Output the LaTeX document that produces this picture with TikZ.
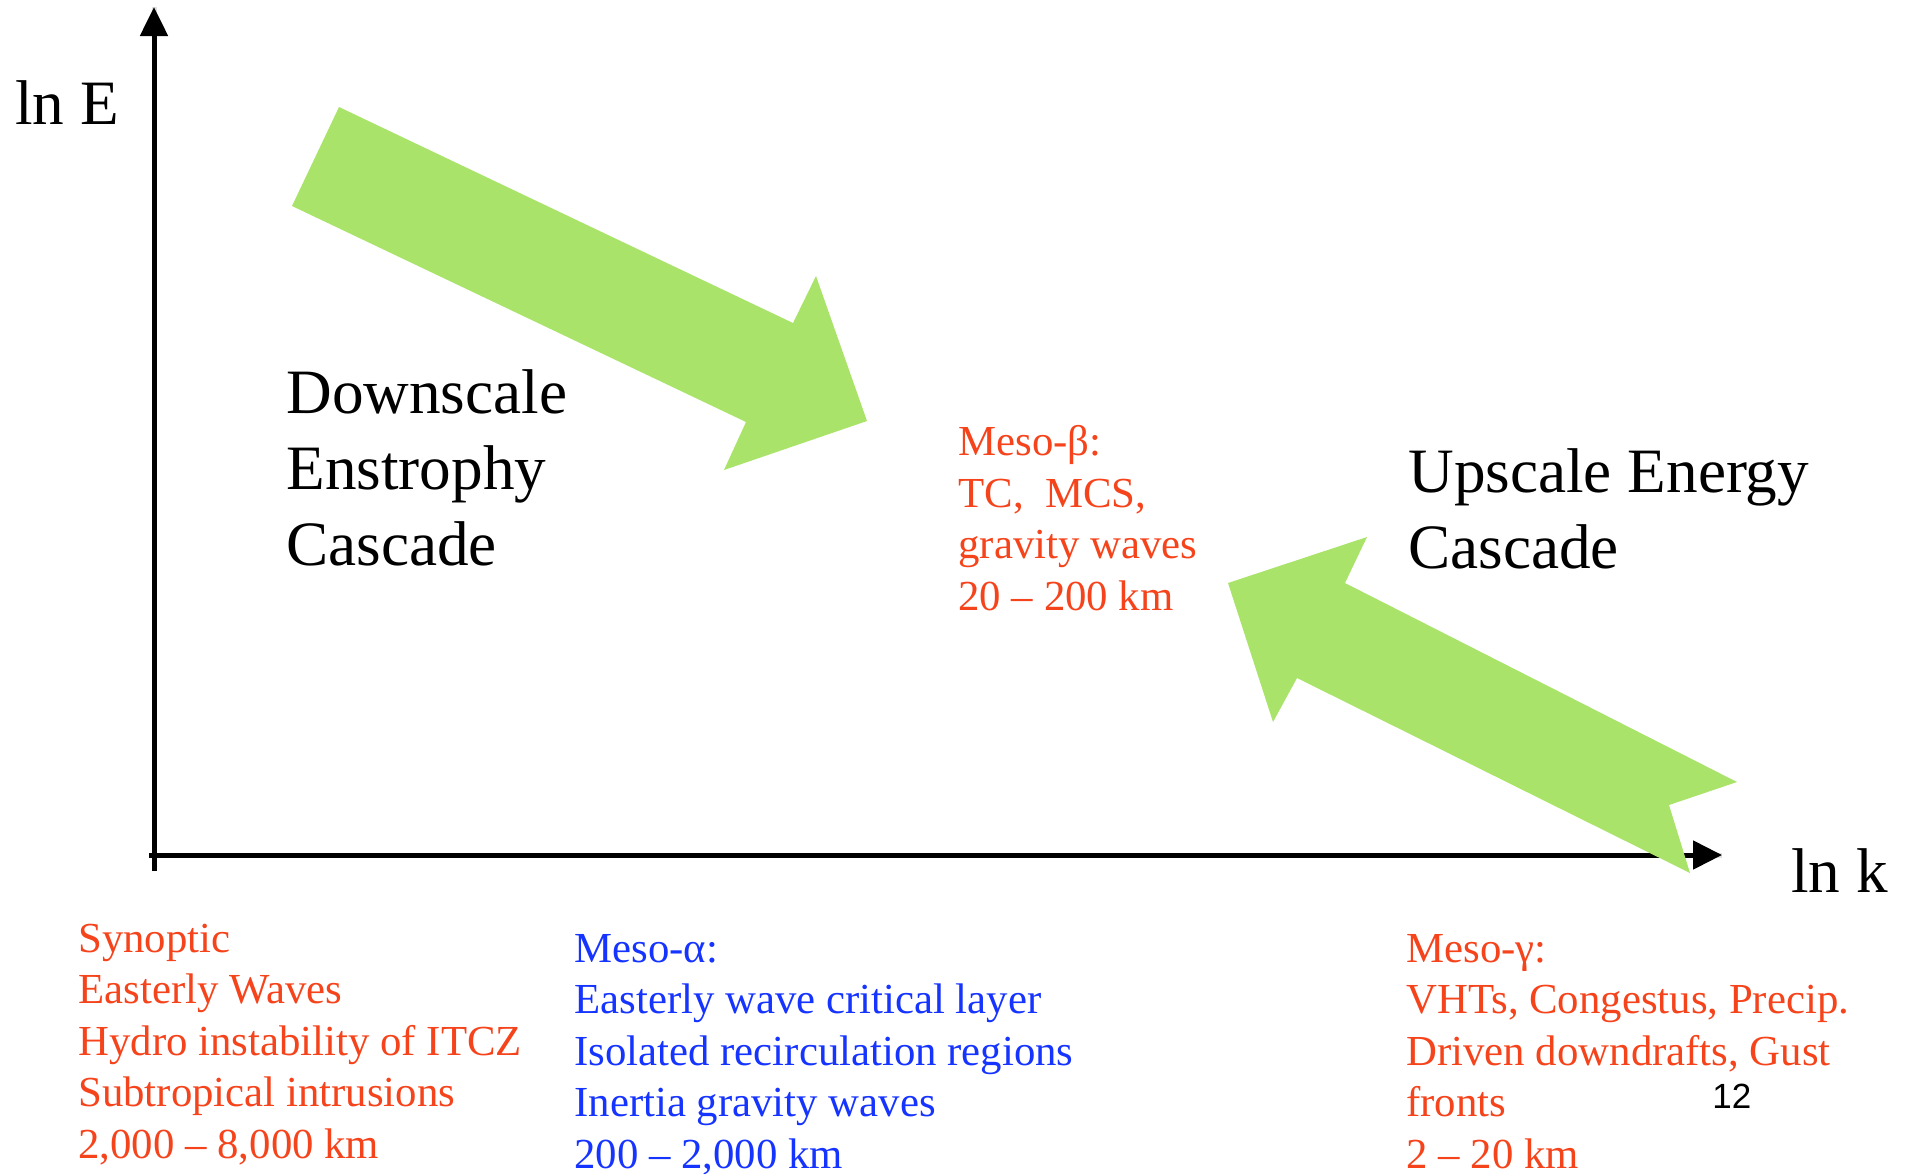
\documentclass[tikz,border=0pt]{standalone}
\usepackage{fontspec}
\setmainfont{Liberation Serif}
\newfontfamily\slidefont{Liberation Sans}
\usetikzlibrary{arrows.meta}
\definecolor{scalered}{RGB}{245,68,28}
\definecolor{scaleblue}{RGB}{22,52,255}
\definecolor{cascadegreen}{RGB}{169,227,106}

\begin{document}
\begin{tikzpicture}[x=0.5pt, y=-0.5pt,
  every node/.style = {inner sep=0pt, anchor=base west, align=left},
  axis/.style = {line width=2.5pt},
  cascade/.style = {fill=cascadegreen, draw=none},
  bigtext/.style = {font=\fontsize{31.6}{37.8}\selectfont},
  scaletext/.style = {font=\fontsize{21.4}{25.7}\selectfont}]
  \useasboundingbox (0,0) rectangle (1909,1173);
  % axes
  \coordinate (ybottom) at (154,871);
  \coordinate (ytop) at (154,7);
  \coordinate (xstart) at (149,855);
  \coordinate (xend) at (1722,855);
  \draw[axis, black!12, shift={(3,5)}] (ybottom) -- (ytop);
  \draw[axis, black!12, shift={(3,5)}] (xstart) -- (xend);
  \draw[axis, -{Triangle[length=14.5pt,width=13.5pt]}] (ybottom) -- (ytop);
  \draw[axis, -{Triangle[length=14.5pt,width=14pt]}] (xstart) -- (xend);
  \node[bigtext] (lnE) at (15,124) {ln E};
  \node[bigtext] (lnk) at (1791,892) {ln k};
  % cascade arrows
  \fill[cascade] (339,107) -- (793,323) -- (816,276) -- (867,421)
    -- (724,470) -- (746,422) -- (292,206) -- cycle;
  \fill[cascade] (1228,583) -- (1367,537) -- (1345,583) -- (1737,782)
    -- (1669,805) -- (1690,873) -- (1297,678) -- (1273,722) -- cycle;
  % (the base of a multi-line node is its last line)
  \node[bigtext] (down) at (286,565) {Downscale\\Enstrophy\\Cascade};
  \node[bigtext] (up) at (1408,568) {Upscale Energy\\Cascade};
  % scale ranges
  \node[scaletext, text=scalered] (mesob) at (958,610)
    {Meso-β:\\TC, \ MCS,\\gravity waves\\20 – 200 km};
  \node[scaletext, text=scalered] (synoptic) at (78,1158)
    {Synoptic\\Easterly Waves\\Hydro instability of ITCZ\\Subtropical intrusions\\2,000 – 8,000 km};
  \node[scaletext, text=scaleblue] (mesoa) at (574,1168)
    {Meso-α:\\Easterly wave critical layer\\Isolated recirculation regions\\Inertia gravity waves\\200 – 2,000 km};
  \node[scaletext, text=scalered] (mesog) at (1406,1168)
    {Meso-γ:\\VHTs, Congestus, Precip.\\Driven downdrafts, Gust\\fronts\\2 – 20 km};
  \node[font=\slidefont\fontsize{17.5}{21}\selectfont] (page) at (1712,1108) {12};
\end{tikzpicture}
\end{document}
